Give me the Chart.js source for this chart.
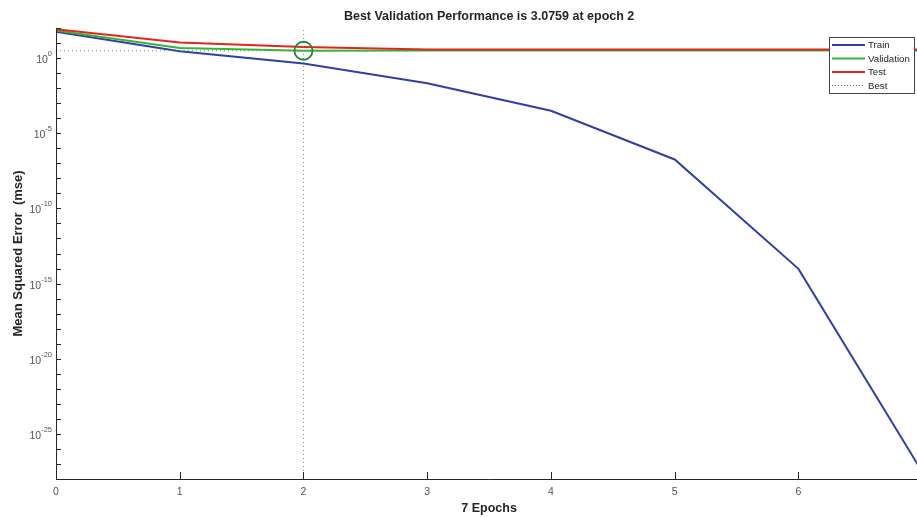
<!DOCTYPE html>
<html>
<head>
<meta charset="utf-8">
<script src="https://cdn.jsdelivr.net/npm/chart.js@4.4.0/dist/chart.umd.min.js"></script>
<style>
  html, body { margin: 0; padding: 0; background: #fff; overflow: hidden; }
  #wrap { width: 933px; height: 517px; }
</style>
</head>
<body>
<div id="wrap"><canvas id="perf" width="933" height="517"></canvas></div>
<script>
// values
const epochs = [0, 1, 2, 3, 4, 5, 6, 7];
const trainMse = [57, 2.8, 0.44, 0.021, 3.1e-4, 1.8e-7, 9.5e-15, 3e-28];
const validationMse = [68, 4.6, 3.0759, 3.15, 3.15, 3.15, 3.15, 3.15];
const testMse = [82, 10.7, 5.4, 3.7, 3.7, 3.7, 3.7, 3.7];
const bestEpoch = 2;
const bestPerf = 3.0759;

const xTicks = [0, 1, 2, 3, 4, 5, 6];
const yLabelExps = [0, -5, -10, -15, -20, -25];
const yMinExp = -28, yMaxExp = 2;

const titleText = 'Best Validation Performance is 3.0759 at epoch 2';
const xTitle = '7 Epochs';
const yTitle = 'Mean Squared Error  (mse)';
const legendItems = [
  { label: 'Train', color: '#3140a5', dash: [] },
  { label: 'Validation', color: '#35b535', dash: [] },
  { label: 'Test', color: '#e5241f', dash: [] },
  { label: 'Best', color: '#777', dash: [1, 2] }
];

const pts = (arr) => epochs.map((e, i) => ({ x: e, y: arr[i] }));

// axes, tick marks, labels and legend drawn matlab style
const matlabAxes = {
  id: 'matlabAxes',
  afterDatasetsDraw(chart) {
    const { ctx, chartArea: a, scales: { x, y } } = chart;
    ctx.save();
    ctx.strokeStyle = '#262626';
    ctx.lineWidth = 1;
    ctx.beginPath();
    ctx.moveTo(a.left + 0.5, a.top);
    ctx.lineTo(a.left + 0.5, a.bottom + 0.5);
    ctx.lineTo(a.right, a.bottom + 0.5);
    for (let e = yMinExp; e <= yMaxExp; e++) {
      const py = Math.round(y.getPixelForValue(Math.pow(10, e))) + 0.5;
      ctx.moveTo(a.left, py);
      ctx.lineTo(a.left + 5, py);
    }
    xTicks.forEach(v => {
      const px = Math.round(x.getPixelForValue(v)) + 0.5;
      ctx.moveTo(px, a.bottom);
      ctx.lineTo(px, a.bottom - 7);
    });
    ctx.stroke();

    // y tick labels 10^n
    ctx.fillStyle = '#555';
    ctx.textAlign = 'right';
    ctx.textBaseline = 'alphabetic';
    yLabelExps.forEach(e => {
      const py = y.getPixelForValue(Math.pow(10, e));
      const ex = e === 0 ? '0' : '-' + Math.abs(e);
      ctx.font = '7.5px "Liberation Sans", Arial, sans-serif';
      const w = ctx.measureText(ex).width;
      ctx.fillText(ex, 52, py - 2);
      ctx.font = '10.5px "Liberation Sans", Arial, sans-serif';
      ctx.fillText('10', 52 - w, py + 5);
    });

    // titles
    ctx.fillStyle = '#262626';
    ctx.textAlign = 'center';
    ctx.textBaseline = 'middle';
    ctx.font = 'bold 12.5px "Liberation Sans", Arial, sans-serif';
    ctx.fillText(titleText, (a.left + a.right) / 2, 17);
    ctx.fillText(xTitle, (a.left + a.right) / 2, 509);
    ctx.save();
    ctx.translate(18, (a.top + a.bottom) / 2);
    ctx.rotate(-Math.PI / 2);
    ctx.font = 'bold 13px "Liberation Sans", Arial, sans-serif';
    ctx.fillText(yTitle, 0, 0);
    ctx.restore();

    // legend box
    ctx.fillStyle = '#fff';
    ctx.fillRect(829, 37, 85, 56);
    ctx.strokeStyle = '#444';
    ctx.strokeRect(829.5, 37.5, 85, 56);
    ctx.font = '9.7px "Liberation Sans", Arial, sans-serif';
    ctx.textAlign = 'left';
    legendItems.forEach((it, i) => {
      const ly = 45 + i * 13.5;
      ctx.beginPath();
      ctx.strokeStyle = it.color;
      ctx.lineWidth = it.dash.length ? 1 : 2;
      ctx.setLineDash(it.dash);
      ctx.moveTo(832, ly);
      ctx.lineTo(865, ly);
      ctx.stroke();
      ctx.setLineDash([]);
      ctx.fillStyle = '#262626';
      ctx.fillText(it.label, 868, ly + 0.5);
    });
    ctx.restore();
  }
};

new Chart(document.getElementById('perf'), {
  type: 'line',
  data: {
    datasets: [
      { label: 'Train', data: pts(trainMse), borderColor: '#3140a5', borderWidth: 2, pointRadius: 0, order: 5 },
      { label: 'Validation', data: pts(validationMse), borderColor: '#35b535', borderWidth: 2, pointRadius: 0, order: 4 },
      { label: 'Test', data: pts(testMse), borderColor: '#e5241f', borderWidth: 2, pointRadius: 0, order: 3 },
      { label: 'Best', data: [{ x: 0, y: bestPerf }, { x: bestEpoch, y: bestPerf }],
        borderColor: '#6f9a58', borderWidth: 1, borderDash: [1, 3], pointRadius: 0, order: 2 },
      { label: 'BestV', data: [{ x: bestEpoch, y: Math.pow(10, yMinExp) }, { x: bestEpoch, y: Math.pow(10, yMaxExp) }],
        borderColor: '#7d9a78', borderWidth: 1, borderDash: [1, 3], pointRadius: 0, order: 2 },
      { label: 'BestPoint', data: [{ x: bestEpoch, y: bestPerf }], showLine: false,
        pointRadius: 9, pointBorderWidth: 1.8, pointBorderColor: '#1e8a33',
        pointBackgroundColor: 'rgba(0,0,0,0)', order: 1 }
    ]
  },
  options: {
    responsive: false,
    animation: false,
    devicePixelRatio: 1,
    layout: { padding: { top: 28, left: 0, right: 0, bottom: 0 } },
    plugins: { legend: { display: false }, tooltip: { enabled: false }, title: { display: false } },
    scales: {
      x: {
        type: 'linear', min: 0, max: 7,
        grid: { display: false, drawTicks: false },
        border: { display: false },
        ticks: {
          stepSize: 1, padding: 7, color: '#555', maxRotation: 0, autoSkip: false,
          font: { size: 10.5, family: '"Liberation Sans", Arial, sans-serif' },
          callback: v => (v === 7 ? '' : v)
        },
        afterFit(s) { s.height = 38; }
      },
      y: {
        type: 'logarithmic', min: Math.pow(10, yMinExp), max: Math.pow(10, yMaxExp),
        grid: { display: false, drawTicks: false },
        border: { display: false },
        ticks: { display: false },
        afterFit(s) { s.width = 56; }
      }
    }
  },
  plugins: [matlabAxes]
});
</script>
</body>
</html>
